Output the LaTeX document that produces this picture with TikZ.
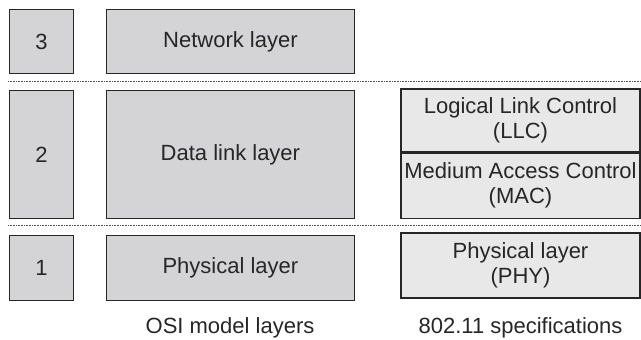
\documentclass[tikz,border=0pt]{standalone}
\usepackage{fontspec}
\setmainfont{Liberation Sans}
\usetikzlibrary{positioning}
\definecolor{osigray}{RGB}{212,212,214}
\definecolor{specgray}{RGB}{232,232,232}
\tikzset{
    numbox/.style={
        rectangle, draw=black!85, fill=osigray, line width=0.9pt,
        minimum width=64pt, inner sep=0pt
    },
    layerbox/.style={
        rectangle, draw=black!85, fill=osigray, line width=0.9pt,
        minimum width=248pt, inner sep=0pt, align=center
    },
    specbox/.style={
        rectangle, draw=black!85, fill=specgray, line width=1.3pt,
        minimum width=239pt, inner sep=0pt, align=center
    },
    sepline/.style={densely dotted, black!70, line width=0.6pt},
    caption/.style={inner sep=0pt, text=black!85}
}

\begin{document}
\begin{tikzpicture}[x=1pt, y=-1pt, every node/.style={font=\fontsize{22}{25}\selectfont, text=black!85}]
        \useasboundingbox (0,0) rectangle (641,340);
        % OSI side
        \node [numbox, minimum height=64pt] (n3) at (41.5,41.5) {3};
        \node [numbox, minimum height=128pt, below=16pt of n3] (n2) {2};
        \node [numbox, minimum height=65pt, below=16pt of n2] (n1) {1};
        \node [layerbox, minimum height=64pt, right=32pt of n3] (network) {Network layer};
        \node [layerbox, minimum height=128pt, right=32pt of n2] (datalink) {Data link layer};
        \node [layerbox, minimum height=65pt, right=32pt of n1] (physical) {Physical layer};
        
        % 802.11 side
        \node [specbox, minimum height=63pt] (llc) at (520.5,120.5) {Logical Link Control\\(LLC)};
        \node [specbox, minimum height=65pt, below=0pt of llc] (mac) {Medium Access Control\\(MAC)};
        \node [specbox, minimum height=65pt] (phy) at (520.5,265.5) {Physical layer\\(PHY)};
        
        % layer separators
        \coordinate (sep3l) at (8,81);
        \coordinate (sep3r) at (641,81);
        \coordinate (sep2l) at (8,225);
        \coordinate (sep2r) at (641,225);
        \draw [sepline] (sep3l) -- (sep3r);
        \draw [sepline] (sep2l) -- (sep2r);
        
        \node [caption] (osicap) at (230,328) {OSI model layers};
        \node [caption] (speccap) at (520.5,328) {802.11 specifications};
    \end{tikzpicture}
\end{document}
